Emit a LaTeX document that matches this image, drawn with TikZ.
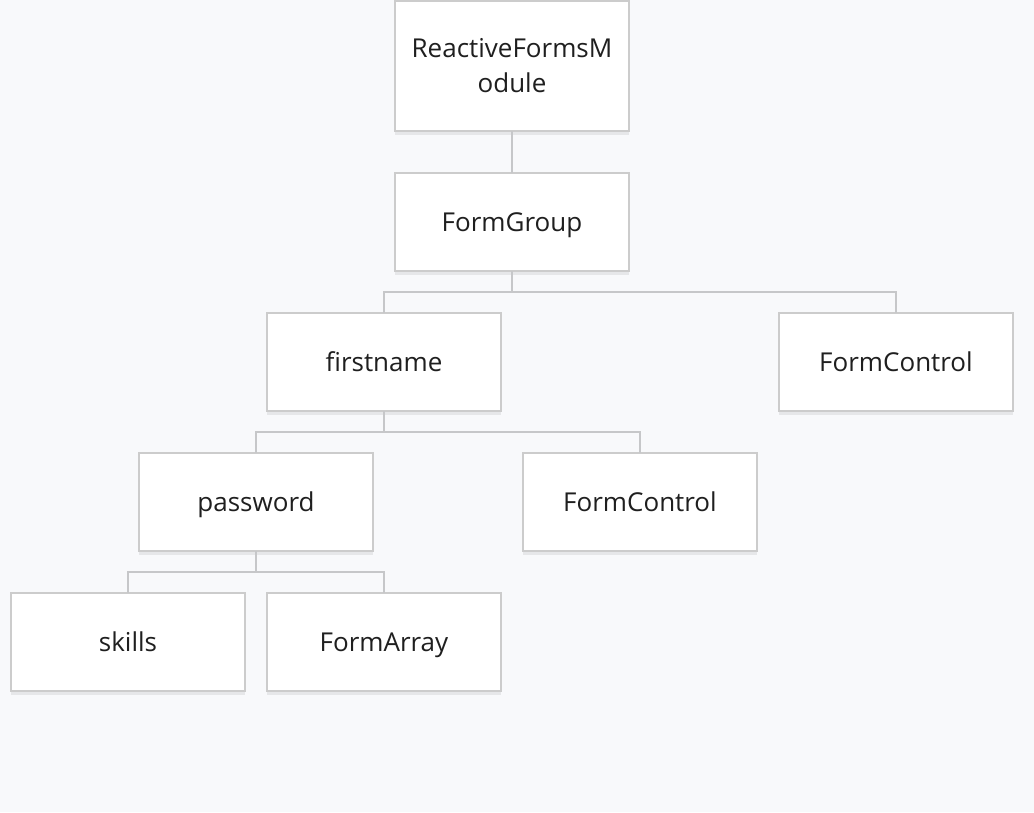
\documentclass[tikz,border=0pt]{standalone}
\usepackage{fontspec}
\setmainfont{Open Sans}
\usetikzlibrary{calc,shadows}
\definecolor{bg}{HTML}{F8F9FB}
\definecolor{boxline}{HTML}{CCCCCC}
\definecolor{conn}{HTML}{C6C7C9}
\definecolor{txt}{HTML}{1F1F1F}
\tikzset{
  treebox/.style={draw=boxline, line width=2pt, fill=white, minimum width=234pt, minimum height=98pt,
    inner sep=0pt, outer sep=0pt, text=txt, font=\fontsize{26}{35}\selectfont, align=center,
    text height=18.6pt, text depth=0pt,
    drop shadow={shadow xshift=0pt, shadow yshift=-4pt, opacity=0.07, fill=black}},
  link/.style={draw=conn, line width=2pt}
}
\begin{document}
\begin{tikzpicture}[x=1pt,y=-1pt]
\fill[bg] (0,0) rectangle (1034,812);
\useasboundingbox (0,0) rectangle (1034,812);
\node[treebox, minimum height=130pt, text height=53.6pt] (rfm) at (512,66) {ReactiveFormsM\\odule};
\node[treebox] (fg) at (512,222) {FormGroup};
\node[treebox] (fn) at (384,362) {firstname};
\node[treebox] (fc1) at (896,362) {FormControl};
\node[treebox] (pw) at (256,502) {password};
\node[treebox] (fc2) at (640,502) {FormControl};
\node[treebox] (sk) at (128,642) {skills};
\node[treebox] (fa) at (384,642) {FormArray};
\draw[link] (rfm.south) -- (fg.north);
\coordinate (j1) at ($(fg.south)!0.5!(fg.south |- fn.north)$);
\draw[link] (fg.south) -- (j1) -| (fn.north);
\draw[link] (j1) -| (fc1.north);
\coordinate (j2) at ($(fn.south)!0.5!(fn.south |- pw.north)$);
\draw[link] (fn.south) -- (j2) -| (pw.north);
\draw[link] (j2) -| (fc2.north);
\coordinate (j3) at ($(pw.south)!0.5!(pw.south |- sk.north)$);
\draw[link] (pw.south) -- (j3) -| (sk.north);
\draw[link] (j3) -| (fa.north);
\end{tikzpicture}
\end{document}
